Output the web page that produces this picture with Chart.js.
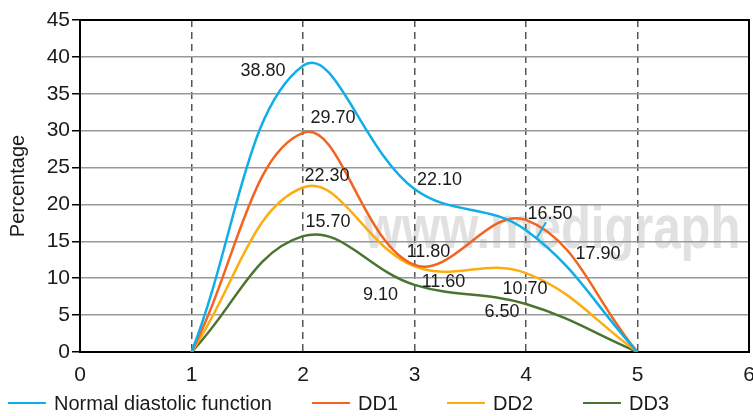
<!DOCTYPE html>
<html>
<head>
<meta charset="utf-8">
<script src="https://cdn.jsdelivr.net/npm/chart.js@4"></script>
<style>
    html, body { margin: 0; padding: 0; background: #fff; }
    #wrap { width: 753px; height: 416px; }
</style>
</head>
<body>
<div id="wrap"><canvas id="chart" width="753" height="416"></canvas></div>
<script>
// Values
let xValues = [1, 2, 3, 4, 5]
let normalValues = [0, 38.8, 22.1, 16.5, 0]
let dd1Values = [0, 29.7, 11.8, 17.9, 0]
let dd2Values = [0, 22.3, 11.6, 10.7, 0]
let dd3Values = [0, 15.7, 9.1, 6.5, 0]
let seriesNames = ["Normal diastolic function", "DD1", "DD2", "DD3"]
let xTicks = [0, 1, 2, 3, 4, 5, 6]
let yTicks = [0, 5, 10, 15, 20, 25, 30, 35, 40, 45]

// Styling (not data)
let colors = ["#10aee9", "#f2641f", "#fdad10", "#4a7430"]
let FONT = "'Liberation Sans', Arial, sans-serif"
let TEXT = "#1a1a1a"

// Where each value label sits, relative to its point, in pixels.  null = no label.
let labelOffsets = [
    [null, [-40, 5], [25, -9], [24, -16], null],
    [null, [30, -15], [14, -13], [72, 34], null],
    [null, [24, -11], [29, 16], [-1, 16], null],
    [null, [25, -14], [-34, 10], [-24, 8], null],
]
// Leader line from the 16.50 label down to the blue curve
let leader = { series: 0, index: 3, from: [20, -8], to: [10, 9] }

// Legend item left edges
let legendX = [8, 312, 447, 583]
let legendY = 403

function pts(vals) {
    return vals.map((v, i) => ({ x: xValues[i], y: v }))
}

let datasets = [normalValues, dd1Values, dd2Values, dd3Values].map((vals, i) => ({
    label: seriesNames[i],
    data: pts(vals),
    borderColor: colors[i],
    backgroundColor: colors[i],
    borderWidth: 2.5,
    pointRadius: 0,
    tension: 0.4,
    fill: false,
}))

let watermark = {
    id: "watermark",
    beforeDraw(chart) {
        let { ctx, chartArea } = chart
        ctx.save()
        ctx.beginPath()
        ctx.rect(chartArea.left, chartArea.top, chartArea.right - chartArea.left, chartArea.bottom - chartArea.top)
        ctx.clip()
        ctx.translate(364, 248)
        ctx.scale(0.79, 1)
        ctx.font = "bold 62px " + FONT
        ctx.fillStyle = "#e1e1e1"
        ctx.textBaseline = "alphabetic"
        ctx.fillText("www.medigraph", 0, 0)
        ctx.restore()
    }
}

let frame = {
    id: "frame",
    beforeDatasetsDraw(chart) {
        let { ctx, chartArea } = chart
        ctx.save()
        ctx.strokeStyle = "#000"
        ctx.lineWidth = 2
        ctx.strokeRect(chartArea.left, chartArea.top, chartArea.right - chartArea.left, chartArea.bottom - chartArea.top)
        ctx.restore()
    }
}

let valueLabels = {
    id: "valueLabels",
    afterDatasetsDraw(chart) {
        let ctx = chart.ctx
        ctx.save()
        ctx.font = "18px " + FONT
        ctx.fillStyle = TEXT
        ctx.textAlign = "center"
        ctx.textBaseline = "middle"
        chart.data.datasets.forEach((ds, di) => {
            let meta = chart.getDatasetMeta(di)
            meta.data.forEach((pt, i) => {
                let off = labelOffsets[di][i]
                if (!off) {
                    return
                }
                ctx.fillText(ds.data[i].y.toFixed(2), pt.x + off[0], pt.y + off[1])
            })
        })
        let p = chart.getDatasetMeta(leader.series).data[leader.index]
        ctx.strokeStyle = colors[leader.series]
        ctx.lineWidth = 2
        ctx.beginPath()
        ctx.moveTo(p.x + leader.from[0], p.y + leader.from[1])
        ctx.lineTo(p.x + leader.to[0], p.y + leader.to[1])
        ctx.stroke()
        ctx.restore()
    }
}

let legendPlugin = {
    id: "legendLine",
    afterDraw(chart) {
        let ctx = chart.ctx
        ctx.save()
        ctx.font = "20px " + FONT
        ctx.textBaseline = "middle"
        chart.data.datasets.forEach((ds, i) => {
            let x = legendX[i]
            ctx.strokeStyle = ds.borderColor
            ctx.lineWidth = 2
            ctx.beginPath()
            ctx.moveTo(x, legendY)
            ctx.lineTo(x + 38, legendY)
            ctx.stroke()
            ctx.fillStyle = TEXT
            ctx.fillText(ds.label, x + 46, legendY + 1)
        })
        ctx.restore()
    }
}

new Chart(document.getElementById("chart"), {
    type: "line",
    data: { datasets },
    plugins: [watermark, frame, valueLabels, legendPlugin],
    options: {
        responsive: false,
        animation: false,
        layout: { padding: { top: 20, right: 4, left: 0, bottom: 0 } },
        plugins: {
            legend: { display: false },
            tooltip: { enabled: false },
        },
        scales: {
            x: {
                type: "linear",
                min: 0,
                max: 6,
                afterBuildTicks(scale) {
                    scale.ticks = xTicks.map(v => ({ value: v }))
                },
                afterFit(scale) {
                    scale.height = 64
                    scale.paddingLeft = 0
                    scale.paddingRight = 0
                },
                grid: {
                    color: "#555",
                    lineWidth: 1.5,
                    drawTicks: false,
                },
                border: { color: "#000", width: 2, dash: [7, 5] },
                ticks: {
                    padding: 11,
                    color: TEXT,
                    font: { size: 21, family: FONT },
                },
            },
            y: {
                min: 0,
                max: 45,
                afterBuildTicks(scale) {
                    scale.ticks = yTicks.map(v => ({ value: v }))
                },
                afterFit(scale) {
                    scale.width = 80
                },
                grid: {
                    color: "#999",
                    lineWidth: 1.5,
                    tickColor: "#000",
                    tickLength: 8,
                },
                border: { color: "#000", width: 2 },
                ticks: {
                    padding: 2,
                    color: TEXT,
                    font: { size: 21, family: FONT },
                },
                title: {
                    display: true,
                    text: "Percentage",
                    color: TEXT,
                    font: { size: 20, family: FONT },
                    padding: { top: 6, bottom: 0 },
                },
            },
        },
    },
})
</script>
</body>
</html>
